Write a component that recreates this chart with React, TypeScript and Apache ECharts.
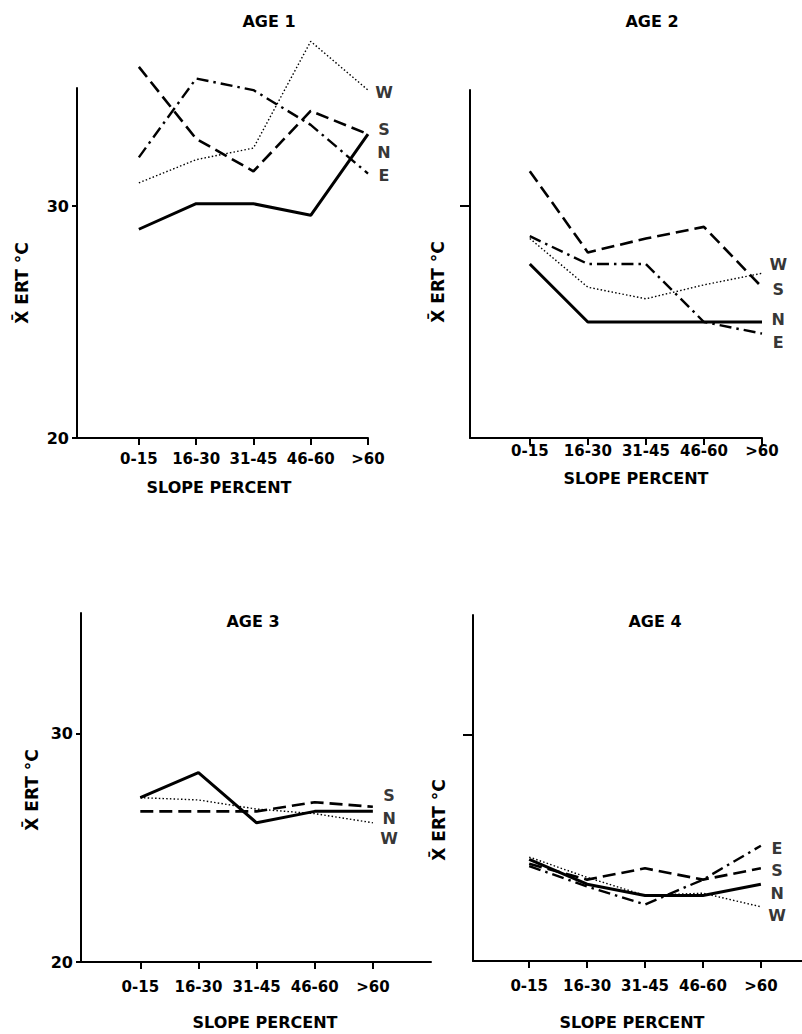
import React, { useEffect, useRef } from "react";
import * as echarts from "echarts";

const CATS = ["0-15", "16-30", "31-45", "46-60", ">60"];
const CAT_POS = [0, 1, 2, 3, 4];

// AGE 1
const A1_N = [29.0, 30.1, 30.1, 29.6, 33.1];
const A1_S = [36.0, 32.9, 31.5, 34.1, 33.1];
const A1_E = [32.1, 35.5, 35.0, 33.5, 31.4];
const A1_W = [31.0, 32.0, 32.5, 37.1, 35.0];
const A1_LABELS: [string, number][] = [["W", 34.9], ["S", 33.3], ["N", 32.3], ["E", 31.3]];

// AGE 2
const A2_N = [27.5, 25.0, 25.0, 25.0, 25.0];
const A2_S = [31.5, 28.0, 28.6, 29.1, 26.5];
const A2_E = [28.7, 27.5, 27.5, 25.0, 24.5];
const A2_W = [28.6, 26.5, 26.0, 26.6, 27.1];
const A2_LABELS: [string, number][] = [["W", 27.5], ["S", 26.4], ["N", 25.1], ["E", 24.1]];

// AGE 3
const A3_N = [27.2, 28.3, 26.1, 26.6, 26.6];
const A3_S = [26.6, 26.6, 26.6, 27.0, 26.8];
const A3_W = [27.2, 27.1, 26.7, 26.5, 26.1];
const A3_LABELS: [string, number][] = [["S", 27.3], ["N", 26.3], ["W", 25.4]];

// AGE 4
const A4_N = [24.5, 23.4, 22.9, 22.9, 23.4];
const A4_S = [24.3, 23.6, 24.1, 23.6, 24.1];
const A4_E = [24.2, 23.3, 22.5, 23.6, 25.1];
const A4_W = [24.6, 23.7, 22.9, 23.0, 22.4];
const A4_LABELS: [string, number][] = [["E", 25.0], ["S", 24.0], ["N", 23.0], ["W", 22.0]];

const LABEL_X = 4.28;
const FONT = "DejaVu Sans";

const STYLES: Record<string, any> = {
  N: { width: 3, type: "solid" },
  S: { width: 2.6, type: [13, 6] },
  E: { width: 2.4, type: [12, 5, 2.5, 5] },
  W: { width: 1.4, type: [1.5, 2.2] },
};

type Panel = {
  title: string;
  grid: { left: number; top: number; width: number; height: number };
  xMin: number;
  xMax: number;
  yMax: number;
  yTicks: number[];
  yLabels: boolean;
  yTickLen: number;
  xLabelMargin: number;
  series: Record<string, number[]>;
  labels: [string, number][];
  titlePos: [number, number];
  xNamePos: [number, number];
  yNamePos: [number, number];
};

const PANELS: Panel[] = [
  {
    title: "AGE 1",
    grid: { left: 77, top: 88, width: 291, height: 350 },
    xMin: -1.08, xMax: 4, yMax: 35.09,
    yTicks: [20, 30], yLabels: true, yTickLen: 5, xLabelMargin: 13,
    series: { N: A1_N, S: A1_S, E: A1_E, W: A1_W },
    labels: A1_LABELS,
    titlePos: [269, 21], xNamePos: [219, 487], yNamePos: [22, 283],
  },
  {
    title: "AGE 2",
    grid: { left: 470, top: 90, width: 292, height: 348 },
    xMin: -1.03, xMax: 4, yMax: 35,
    yTicks: [30], yLabels: false, yTickLen: 10, xLabelMargin: 5,
    series: { N: A2_N, S: A2_S, E: A2_E, W: A2_W },
    labels: A2_LABELS,
    titlePos: [652, 21], xNamePos: [636, 478], yNamePos: [438, 282],
  },
  {
    title: "AGE 3",
    grid: { left: 81, top: 613, width: 350, height: 349 },
    xMin: -1.02, xMax: 5.0, yMax: 35.29,
    yTicks: [20, 30], yLabels: true, yTickLen: 5, xLabelMargin: 17,
    series: { N: A3_N, S: A3_S, W: A3_W },
    labels: A3_LABELS,
    titlePos: [253, 621], xNamePos: [265, 1022], yNamePos: [32, 790],
  },
  {
    title: "AGE 4",
    grid: { left: 473, top: 615, width: 329, height: 346 },
    xMin: -0.97, xMax: 4.71, yMax: 35.31,
    yTicks: [30], yLabels: false, yTickLen: 10, xLabelMargin: 17,
    series: { N: A4_N, S: A4_S, E: A4_E, W: A4_W },
    labels: A4_LABELS,
    titlePos: [655, 621], xNamePos: [632, 1022], yNamePos: [439, 820],
  },
];

function buildOption() {
  const grid: any[] = [];
  const xAxis: any[] = [];
  const yAxis: any[] = [];
  const series: any[] = [];
  const graphic: any[] = [];

  PANELS.forEach((p, i) => {
    grid.push({ ...p.grid, containLabel: false });
    xAxis.push({
      type: "value",
      gridIndex: i,
      min: p.xMin,
      max: p.xMax,
      splitLine: { show: false },
      axisLine: { show: true, onZero: false, lineStyle: { color: "#000", width: 2 } },
      axisTick: { show: true, customValues: CAT_POS, length: 7, lineStyle: { color: "#000", width: 2 } },
      axisLabel: {
        show: true,
        customValues: CAT_POS,
        formatter: (v: number) => CATS[Math.round(v)] ?? "",
        color: "#000",
        fontFamily: FONT,
        fontWeight: "bold",
        fontSize: 15,
        margin: p.xLabelMargin,
      },
    });
    yAxis.push({
      type: "value",
      gridIndex: i,
      min: 20,
      max: p.yMax,
      splitLine: { show: false },
      axisLine: { show: true, onZero: false, lineStyle: { color: "#000", width: 2 } },
      axisTick: { show: true, customValues: p.yTicks, length: p.yTickLen, lineStyle: { color: "#000", width: 2 } },
      axisLabel: {
        show: p.yLabels,
        customValues: p.yTicks,
        color: "#000",
        fontFamily: FONT,
        fontWeight: "bold",
        fontSize: 16,
        margin: 8,
      },
    });
    Object.keys(p.series).forEach((k) => {
      series.push({
        type: "line",
        name: `${p.title} ${k}`,
        xAxisIndex: i,
        yAxisIndex: i,
        symbol: "none",
        clip: false,
        data: p.series[k].map((v, j) => [CAT_POS[j], v]),
        lineStyle: { color: "#000", width: STYLES[k].width, type: STYLES[k].type, cap: "butt" },
        silent: true,
      });
    });
    series.push({
      type: "scatter",
      name: `${p.title} labels`,
      xAxisIndex: i,
      yAxisIndex: i,
      clip: false,
      symbolSize: 1,
      itemStyle: { color: "rgba(0,0,0,0)" },
      silent: true,
      data: p.labels.map(([t, v]) => [LABEL_X, v, t]),
      label: {
        show: true,
        position: "inside",
        formatter: (q: any) => q.data[2],
        color: "#000",
        fontFamily: FONT,
        fontWeight: "bold",
        fontSize: 16,
      },
    });
    graphic.push({
      type: "text",
      x: p.titlePos[0],
      y: p.titlePos[1],
      style: {
        text: p.title,
        fill: "#000",
        font: `bold 16px "${FONT}"`,
        textAlign: "center",
        textVerticalAlign: "middle",
      },
    });
    graphic.push({
      type: "text",
      x: p.xNamePos[0],
      y: p.xNamePos[1],
      style: {
        text: "SLOPE PERCENT",
        fill: "#000",
        font: `bold 16px "${FONT}"`,
        textAlign: "center",
        textVerticalAlign: "middle",
      },
    });
    graphic.push({
      type: "text",
      x: p.yNamePos[0],
      y: p.yNamePos[1],
      rotation: Math.PI / 2,
      style: {
        text: "X\u0304 ERT \u00B0C",
        fill: "#000",
        font: `bold 17px "${FONT}"`,
        textAlign: "center",
        textVerticalAlign: "middle",
      },
    });
  });

  return {
    animation: false,
    backgroundColor: "#fff",
    grid,
    xAxis,
    yAxis,
    series,
    graphic,
  };
}

export default function App() {
  const ref = useRef<HTMLDivElement>(null);
  useEffect(() => {
    if (!ref.current) return;
    const chart = echarts.init(ref.current, null, { renderer: "svg" });
    chart.setOption(buildOption() as any);
    return () => chart.dispose();
  }, []);
  return (
    <div
      ref={ref}
      style={{ position: "absolute", left: 0, top: 0, width: 802, height: 1034, background: "#fff" }}
    />
  );
}
